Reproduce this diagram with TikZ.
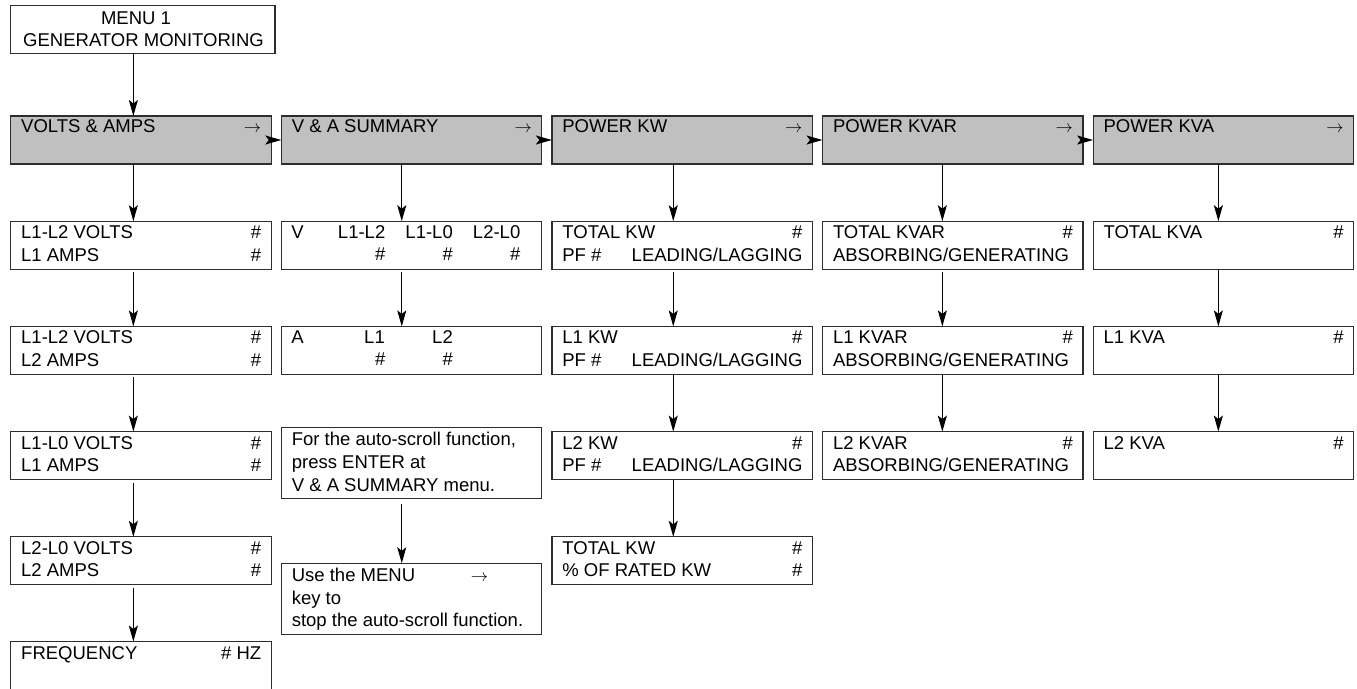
\documentclass[tikz,border=0pt]{standalone}
\usepackage{fontspec}
\setmainfont{Liberation Sans}
\usetikzlibrary{arrows.meta,calc}
\definecolor{grayc}{RGB}{192,192,192}
\definecolor{linec}{RGB}{45,45,45}
\newcommand\fs{\fontsize{18.5pt}{22.5pt}\selectfont}
\newcommand\twoline[4]{% name, box, line1, line2
  \node[txt] (#1) at ([shift={(10.5,17.5)}]#2.north west) {\parbox[t]{240pt}{#3\\#4}};}
\newcommand\graytext[3]{% name, box, text
  \node[txt] (#1t) at ([shift={(10.5,16.8)}]#2.north west) {#3};
  \node[txt,anchor=base east] (#1a) at ([shift={(-10,16.8)}]#2.north east) {$\rightarrow$};}
\begin{document}
\begin{tikzpicture}[x=1pt,y=-1pt,
  box/.style={draw=linec, line width=1.2pt, minimum width=260.5pt, minimum height=48pt,
    inner sep=0pt, outer sep=0pt, anchor=north west},
  graybox/.style={box, fill=grayc},
  txt/.style={inner sep=0pt, outer sep=0pt, anchor=base west, font=\fs, text=black},
  arr/.style={draw=black, line width=1.3pt, -{Stealth[length=16pt,width=9pt,inset=3.5pt]}},
  arrg/.style={arr, shorten <=3pt}]
\useasboundingbox (0,0) rectangle (1357,688);
\clip (0,0) rectangle (1357,688);

% menu
\node[box, minimum width=264.3pt] (menu) at (10.7,5.3) {};
\node[txt, anchor=base] (menuA) at (136,24) {MENU 1};
\node[txt, anchor=base] (menuB) at (143.5,46) {GENERATOR MONITORING};

% gray row
\node[graybox] (g1) at (10.7,116) {};
\node[graybox] (g2) at (281.3,116) {};
\node[graybox] (g3) at (551.9,116) {};
\node[graybox] (g4) at (822.5,116) {};
\node[graybox] (g5) at (1093.1,116) {};
\graytext{g1}{g1}{VOLTS \& AMPS}
\graytext{g2}{g2}{V \& A SUMMARY}
\graytext{g3}{g3}{POWER KW}
\graytext{g4}{g4}{POWER KVAR}
\graytext{g5}{g5}{POWER KVA}

% column 1
\node[box] (a2) at (10.7,221.2) {};
\node[box] (a3) at (10.7,326.4) {};
\node[box] (a4) at (10.7,431.6) {};
\node[box] (a5) at (10.7,536.8) {};
\node[box] (a6) at (10.7,641.5) {};
\twoline{a2t}{a2}{L1-L2 VOLTS\hfill\#}{L1 AMPS\hfill\#}
\twoline{a3t}{a3}{L1-L2 VOLTS\hfill\#}{L2 AMPS\hfill\#}
\twoline{a4t}{a4}{L1-L0 VOLTS\hfill\#}{L1 AMPS\hfill\#}
\twoline{a5t}{a5}{L2-L0 VOLTS\hfill\#}{L2 AMPS\hfill\#}
\node[txt] (a6t) at ([shift={(10.5,17.5)}]a6.north west) {\parbox[t]{240pt}{FREQUENCY\hfill\# HZ}};

% column 2
\node[box] (b2) at (281.3,221.2) {};
\node[box] (b3) at (281.3,326.4) {};
\node[box, minimum height=71pt] (b4) at (281.3,427.3) {};
\node[box, minimum height=71pt] (b5) at (281.3,563.3) {};
\node[txt] (b2v) at ([shift={(10,17.5)}]b2.north west) {V};
\node[txt,anchor=base east] (b2x) at ([shift={(104,17.5)}]b2.north west) {L1-L2};
\node[txt,anchor=base east] (b2y) at ([shift={(171.5,17.5)}]b2.north west) {L1-L0};
\node[txt,anchor=base east] (b2z) at ([shift={(239,17.5)}]b2.north west) {L2-L0};
\node[txt,anchor=base east] (b2xh) at ([shift={(104,39.5)}]b2.north west) {\#};
\node[txt,anchor=base east] (b2yh) at ([shift={(171.5,39.5)}]b2.north west) {\#};
\node[txt,anchor=base east] (b2zh) at ([shift={(239,39.5)}]b2.north west) {\#};
\node[txt] (b3a) at ([shift={(10,17.5)}]b3.north west) {A};
\node[txt,anchor=base east] (b3x) at ([shift={(103.5,17.5)}]b3.north west) {L1};
\node[txt,anchor=base east] (b3y) at ([shift={(171.5,17.5)}]b3.north west) {L2};
\node[txt,anchor=base east] (b3xh) at ([shift={(104,39.5)}]b3.north west) {\#};
\node[txt,anchor=base east] (b3yh) at ([shift={(171.5,39.5)}]b3.north west) {\#};
\node[txt] (b4t) at ([shift={(10.5,18.4)}]b4.north west)
  {\parbox[t]{240pt}{\baselineskip=22.8pt For the auto-scroll function,\\press ENTER at\\V \& A SUMMARY menu.}};
\node[txt] (b5t) at ([shift={(10.5,18.4)}]b5.north west)
  {\parbox[t]{240pt}{\baselineskip=22.6pt Use the MENU\\key to\\stop the auto-scroll function.}};
\node[txt] (b5a) at ([shift={(189.5,18.4)}]b5.north west) {$\rightarrow$};

% column 3
\node[box] (c2) at (551.9,221.2) {};
\node[box] (c3) at (551.9,326.4) {};
\node[box] (c4) at (551.9,431.6) {};
\node[box] (c5) at (551.9,536.8) {};
\twoline{c2t}{c2}{TOTAL KW\hfill\#}{PF \#\hfill LEADING/LAGGING}
\twoline{c3t}{c3}{L1 KW\hfill\#}{PF \#\hfill LEADING/LAGGING}
\twoline{c4t}{c4}{L2 KW\hfill\#}{PF \#\hfill LEADING/LAGGING}
\twoline{c5t}{c5}{TOTAL KW\hfill\#}{\% OF RATED KW\hfill\#}

% column 4
\node[box] (d2) at (822.5,221.2) {};
\node[box] (d3) at (822.5,326.4) {};
\node[box] (d4) at (822.5,431.6) {};
\twoline{d2t}{d2}{TOTAL KVAR\hfill\#}{ABSORBING/GENERATING}
\twoline{d3t}{d3}{L1 KVAR\hfill\#}{ABSORBING/GENERATING}
\twoline{d4t}{d4}{L2 KVAR\hfill\#}{ABSORBING/GENERATING}

% column 5
\node[box] (e2) at (1093.1,221.2) {};
\node[box] (e3) at (1093.1,326.4) {};
\node[box] (e4) at (1093.1,431.6) {};
\node[txt] (e2t) at ([shift={(10.5,17.5)}]e2.north west) {\parbox[t]{240pt}{TOTAL KVA\hfill\#}};
\node[txt] (e3t) at ([shift={(10.5,17.5)}]e3.north west) {\parbox[t]{240pt}{L1 KVA\hfill\#}};
\node[txt] (e4t) at ([shift={(10.5,17.5)}]e4.north west) {\parbox[t]{240pt}{L2 KVA\hfill\#}};

% connectors
\draw[arr] ([xshift=-7.6pt]g1.north |- menu.south) -- ([xshift=-7.6pt]g1.north);
\draw[arr] (g1.east) -- (g2.west);
\draw[arr] (g2.east) -- (g3.west);
\draw[arr] (g3.east) -- (g4.west);
\draw[arr] (g4.east) -- (g5.west);

\draw[arr]  ([xshift=-7.6pt]g1.south) -- ([xshift=-7.6pt]a2.north);
\draw[arrg] ([xshift=-7.6pt]a2.south) -- ([xshift=-7.6pt]a3.north);
\draw[arrg] ([xshift=-7.6pt]a3.south) -- ([xshift=-7.6pt]a4.north);
\draw[arrg] ([xshift=-7.6pt]a4.south) -- ([xshift=-7.6pt]a5.north);
\draw[arrg] ([xshift=-7.6pt]a5.south) -- ([xshift=-7.6pt]a6.north);

\draw[arr]  ([xshift=-9.8pt]g2.south) -- ([xshift=-9.8pt]b2.north);
\draw[arrg] ([xshift=-9.8pt]b2.south) -- ([xshift=-9.8pt]b3.north);
\draw[arr, shorten <=6pt] ([xshift=-9.8pt]b4.south) -- ([xshift=-9.8pt]b5.north);

\draw[arr]  ([xshift=-8.9pt]g3.south) -- ([xshift=-8.9pt]c2.north);
\draw[arrg] ([xshift=-8.9pt]c2.south) -- ([xshift=-8.9pt]c3.north);
\draw[arr]  ([xshift=-8.9pt]c3.south) -- ([xshift=-8.9pt]c4.north);
\draw[arr]  ([xshift=-8.9pt]c4.south) -- ([xshift=-8.9pt]c5.north);

\draw[arr]  ([xshift=-10.4pt]g4.south) -- ([xshift=-10.4pt]d2.north);
\draw[arrg] ([xshift=-10.4pt]d2.south) -- ([xshift=-10.4pt]d3.north);
\draw[arr]  ([xshift=-10.4pt]d3.south) -- ([xshift=-10.4pt]d4.north);

\draw[arr] ([xshift=-5pt]g5.south) -- ([xshift=-5pt]e2.north);
\draw[arr] ([xshift=-5pt]e2.south) -- ([xshift=-5pt]e3.north);
\draw[arr] ([xshift=-5pt]e3.south) -- ([xshift=-5pt]e4.north);
\end{tikzpicture}
\end{document}
